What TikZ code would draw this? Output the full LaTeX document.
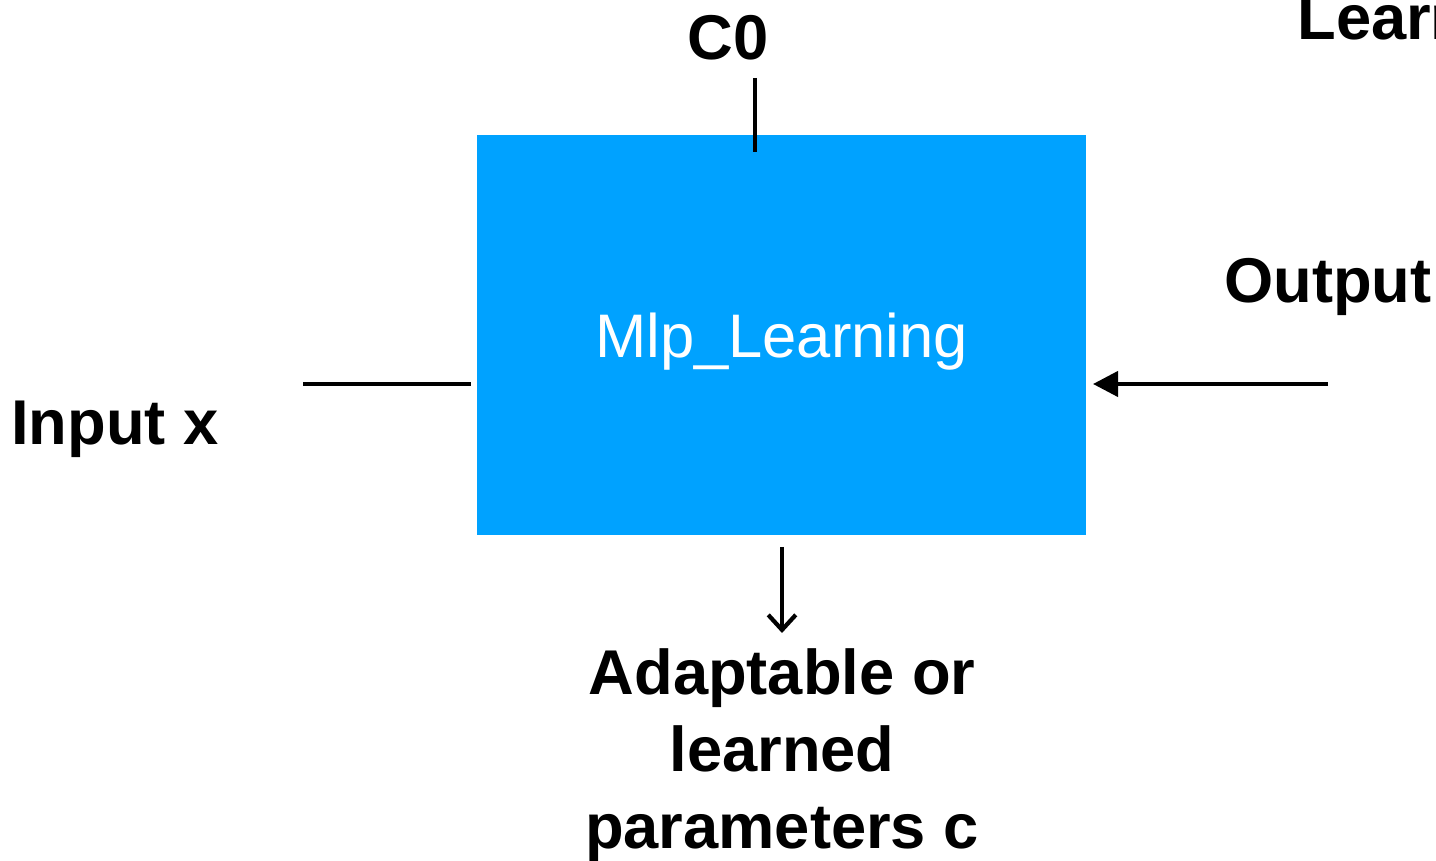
\documentclass[tikz,border=0pt]{standalone}
\usepackage{fontspec}
\setmainfont{Liberation Sans}
\usepackage{xcolor}
\usetikzlibrary{arrows.meta,positioning}
\definecolor{mlpblue}{HTML}{00A2FF}

\begin{document}
\begin{tikzpicture}[wire/.style={line width=2.4pt, black},
    lbl/.style={font=\fontsize{36}{44}\selectfont\bfseries, inner sep=0pt, align=center}]
  \useasboundingbox (0,0) rectangle (28.72,17.2);
  \node[fill=mlpblue, minimum width=12.18cm, minimum height=8cm, text=white, text depth=0pt,
        font=\fontsize{35}{40}\selectfont] (mlp) at (15.63,10.5) {Mlp\_Learning};
  \node[lbl] (c0) at (14.56,16.45) {C0};
  \node[lbl] (inx) at (2.30,8.62) {Input x};
  \node[lbl] (out) at (26.56,11.46) {Output};
  \node[lbl, anchor=base west] (learn) at (25.94,16.4) {Learning};
  \node[lbl, anchor=north] (par) at (15.64,4.24) {Adaptable or\\learned\\parameters c};

  \coordinate (c0a) at (15.10,15.64);
  \coordinate (c0b) at (15.10,14.16);
  \coordinate (ina) at (6.06,9.52);
  \coordinate (inb) at (9.42,9.52);
  \coordinate (outa) at (26.56,9.52);
  \coordinate (outb) at (21.86,9.52);
  \coordinate (para) at (15.64,6.26);
  \coordinate (parb) at (15.64,4.54);

  \draw[wire] (c0a) -- (c0b);
  \draw[wire] (ina) -- (inb);
  \draw[wire, -{Triangle[length=0.5cm, width=0.5cm]}] (outa) -- (outb);
  \draw[wire, -{Straight Barb[length=0.3cm, width=0.55cm]}] (para) -- (parb);
\end{tikzpicture}
\end{document}
